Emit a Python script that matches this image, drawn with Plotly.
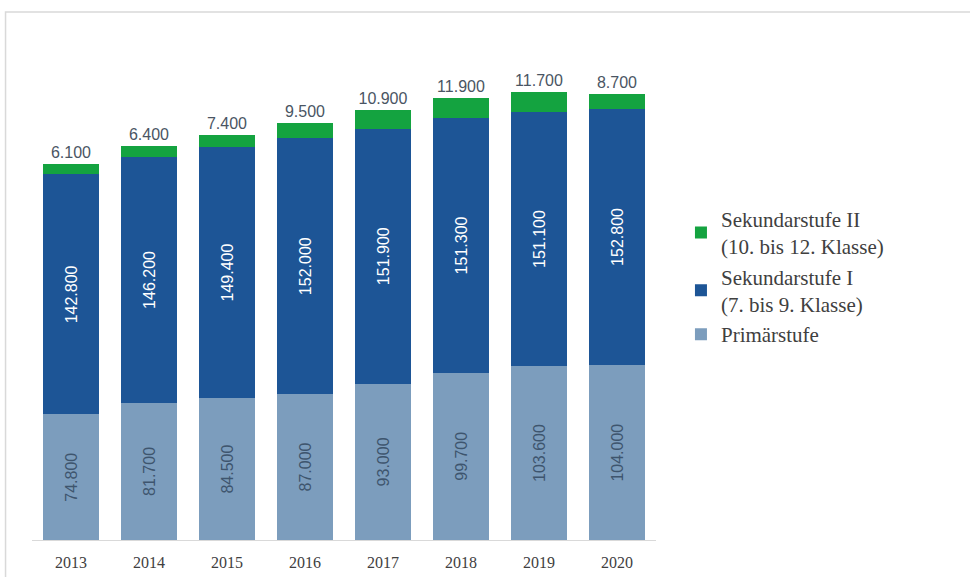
import plotly.graph_objects as go

years = ["2013", "2014", "2015", "2016", "2017", "2018", "2019", "2020"]
primar = [74800, 81700, 84500, 87000, 93000, 99700, 103600, 104000]
sek1 = [142800, 146200, 149400, 152000, 151900, 151300, 151100, 152800]
sek2 = [6100, 6400, 7400, 9500, 10900, 11900, 11700, 8700]

names = ["Primärstufe", "Sekundarstufe I<br>(7. bis 9. Klasse)", "Sekundarstufe II<br>(10. bis 12. Klasse)"]

fig = go.Figure()
fig.add_trace(go.Bar(
    x=years, y=primar, name=names[0], legendgroup="a",
    marker=dict(color="#7c9dbd", line=dict(width=0)),
    texttemplate="%{y:,.0f}", textposition="inside", insidetextanchor="middle",
    textangle=-90, constraintext="none",
    textfont=dict(family="Liberation Sans, Arial", size=16, color="#3e556e"),
))
fig.add_trace(go.Bar(
    x=years, y=sek1, name=names[1], legendgroup="b",
    marker=dict(color="#1d5596", line=dict(width=0)),
    texttemplate="%{y:,.0f}", textposition="inside", insidetextanchor="middle",
    textangle=-90, constraintext="none",
    textfont=dict(family="Liberation Sans, Arial", size=16, color="#ffffff"),
))
fig.add_trace(go.Bar(
    x=years, y=sek2, name=names[2], legendgroup="c",
    marker=dict(color="#14a340", line=dict(width=0)),
    texttemplate="%{y:,.0f}", textposition="outside", textangle=0,
    constraintext="none", cliponaxis=False,
    textfont=dict(family="Liberation Sans, Arial", size=16, color="#4a5563"),
))

fig.update_layout(
    width=970, height=577,
    barmode="stack", bargap=0.28,
    separators=",.",
    paper_bgcolor="white", plot_bgcolor="white",
    margin=dict(l=31.5, r=314, t=36, b=37),
    showlegend=True,
    legend=dict(
        x=1.04, xanchor="left", y=0.677, yanchor="top",
        traceorder="reversed", tracegroupgap=17,
        font=dict(family="Liberation Serif, Times New Roman", size=21, color="#404040"),
        bgcolor="rgba(0,0,0,0)",
    ),
    xaxis=dict(
        showline=True, linecolor="#d9d9d9", linewidth=1,
        ticks="", showgrid=False, ticklabelstandoff=8, automargin=False,
        tickfont=dict(family="Liberation Serif, Times New Roman", size=16, color="#404040"),
    ),
    yaxis=dict(
        range=[0, 300000], visible=False, showgrid=False, automargin=False,
    ),
    shapes=[dict(
        type="rect", xref="paper", yref="paper",
        x0=-0.0424, x1=2.0, y0=-1.0, y1=1.0476,
        line=dict(color="#d9d9d9", width=1.5), fillcolor="rgba(0,0,0,0)",
        layer="below",
    )],
)

fig.write_html("out.html")
